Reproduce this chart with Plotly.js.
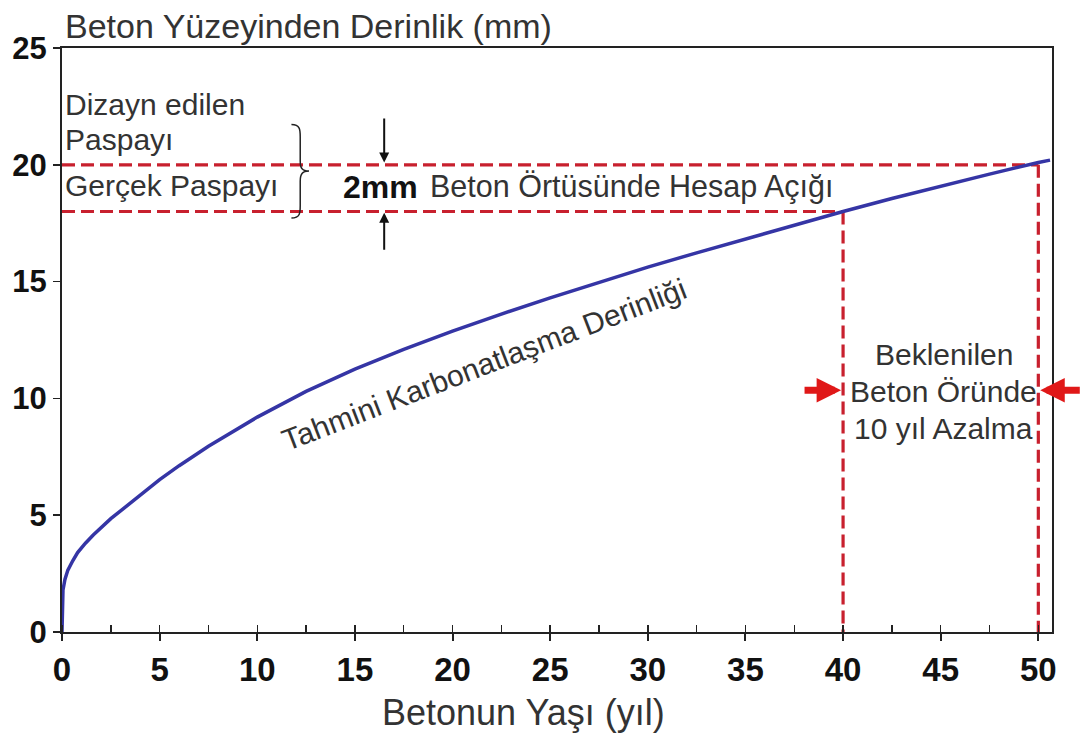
<!DOCTYPE html>
<html><head><meta charset="utf-8">
<script src="https://cdn.plot.ly/plotly-3.0.1.min.js"></script>
<style>body{margin:0;background:#fff}#c{width:1085px;height:734px}</style>
</head><body><div id="c"></div>
<script>
// Carbonation depth curve
const ageYears = [0, 0.01, 0.05, 0.15, 0.3, 0.55, 0.8, 1.2, 1.6, 2.5, 3.3, 4, 5, 6, 7.5, 10, 12.5, 15, 17.5, 20, 22.5, 25, 27.5, 30, 32.5, 35, 37.5, 40, 42.5, 45, 47.5, 50, 50.6];
const depthMm = [0, 1.2, 1.8, 2.25, 2.65, 3.05, 3.4, 3.8, 4.15, 4.85, 5.4, 5.87, 6.52, 7.12, 7.95, 9.2, 10.3, 11.25, 12.1, 12.88, 13.61, 14.3, 14.97, 15.62, 16.23, 16.83, 17.42, 18.0, 18.56, 19.09, 19.6, 20.1, 20.2];
// Reference lines
const designCoverX = [0, 50], designCoverY = [20, 20];
const actualCoverX = [0, 40], actualCoverY = [18, 18];
const life40X = [40, 40], life40Y = [18, 0];
const life50X = [50, 50], life50Y = [20, 0];
const xTicks = [0, 5, 10, 15, 20, 25, 30, 35, 40, 45, 50];
const yTicks = [0, 5, 10, 15, 20, 25];

const red = '#c8202e';
const dash = '13px,6px';
const traces = [
  {x: designCoverX, y: designCoverY, mode: 'lines', line: {color: red, width: 3.2, dash: dash}, hoverinfo: 'skip'},
  {x: actualCoverX, y: actualCoverY, mode: 'lines', line: {color: red, width: 3.2, dash: dash}, hoverinfo: 'skip'},
  {x: life40X, y: life40Y, mode: 'lines', line: {color: red, width: 3.2, dash: dash}, hoverinfo: 'skip'},
  {x: life50X, y: life50Y, mode: 'lines', line: {color: red, width: 3.2, dash: dash}, hoverinfo: 'skip'},
  {x: ageYears, y: depthMm, mode: 'lines', line: {color: '#3535a5', width: 3.5}, hoverinfo: 'skip'}
];

const txt = '#333333';
const F = 'Liberation Sans, Arial, sans-serif';
const annotations = [
  {text: 'Beton Yüzeyinden Derinlik (mm)', xref: 'paper', yref: 'paper', x: 0, y: 1, xanchor: 'left', yanchor: 'bottom', xshift: 1, yshift: 1, showarrow: false, font: {family: F, size: 34, color: txt}},
  {text: 'Betonun Yaşı (yıl)', xref: 'paper', yref: 'paper', x: 0.466, y: 0, xanchor: 'center', yanchor: 'middle', yshift: -80, showarrow: false, font: {family: F, size: 36, color: txt}},
  {text: 'Dizayn edilen', x: 0, y: 22.6, xanchor: 'left', yanchor: 'middle', xshift: 1, showarrow: false, font: {family: F, size: 30, color: txt}},
  {text: 'Paspayı', x: 0, y: 21.1, xanchor: 'left', yanchor: 'middle', xshift: 1, showarrow: false, font: {family: F, size: 30, color: txt}},
  {text: 'Gerçek Paspayı', x: 0, y: 19.1, xanchor: 'left', yanchor: 'middle', xshift: 1, showarrow: false, font: {family: F, size: 30, color: txt}},
  {text: '<b>2mm</b>', x: 14.3, y: 19.05, xanchor: 'left', yanchor: 'middle', showarrow: false, font: {family: F, size: 32, color: '#111'}},
  {text: 'Beton Örtüsünde Hesap Açığı', x: 18.75, y: 19.05, xanchor: 'left', yanchor: 'middle', showarrow: false, font: {family: F, size: 30.5, color: txt}},
  {text: 'Tahmini Karbonatlaşma Derinliği', x: 21.6, y: 11.45, textangle: -21, showarrow: false, font: {family: F, size: 30, color: txt}},
  {text: 'Beklenilen', x: 45.15, y: 11.9, showarrow: false, font: {family: F, size: 30, color: txt}},
  {text: 'Beton Öründe', x: 45.15, y: 10.3, showarrow: false, font: {family: F, size: 30, color: txt}},
  {text: '10 yıl Azalma', x: 45.15, y: 8.7, showarrow: false, font: {family: F, size: 30, color: txt}},
  // black gap arrows
  {x: 16.5, y: 20.1, ax: 16.5, ay: 22.05, axref: 'x', ayref: 'y', showarrow: true, arrowhead: 2, arrowsize: 1, arrowwidth: 2, arrowcolor: '#111', text: ''},
  {x: 16.5, y: 17.95, ax: 16.5, ay: 16.3, axref: 'x', ayref: 'y', showarrow: true, arrowhead: 2, arrowsize: 1, arrowwidth: 2, arrowcolor: '#111', text: ''},
  // red life arrows
  {x: 39.9, y: 10.35, ax: 37.95, ay: 10.35, axref: 'x', ayref: 'y', showarrow: true, arrowhead: 2, arrowsize: 0.7, arrowwidth: 7, arrowcolor: '#e01818', text: ''},
  {x: 50.1, y: 10.35, ax: 52.2, ay: 10.35, axref: 'x', ayref: 'y', showarrow: true, arrowhead: 2, arrowsize: 0.7, arrowwidth: 7, arrowcolor: '#e01818', text: ''}
];

const shapes = [
  // curly brace
  {type: 'path', xref: 'x', yref: 'y', line: {color: '#222', width: 1.5},
   path: 'M 11.75,21.72 C 12.2,21.72 12.2,21.5 12.2,21.2 L 12.2,20.15 C 12.2,19.85 12.3,19.73 12.65,19.73 C 12.3,19.73 12.2,19.6 12.2,19.3 L 12.2,18.25 C 12.2,17.95 12.2,17.72 11.75,17.72'}
];

const layout = {
  width: 1085, height: 734,
  margin: {l: 62, r: 33, t: 48, b: 102},
  paper_bgcolor: '#fff', plot_bgcolor: '#fff',
  showlegend: false,
  xaxis: {range: [0, 50.7], tickvals: xTicks, ticktext: xTicks.map(String), ticks: 'outside', ticklen: 7, tickwidth: 2, tickcolor: '#222',
    minor: {dtick: 2.5, tick0: 0, ticks: 'inside', ticklen: 7, tickwidth: 1.5, tickcolor: '#222'},
    showline: true, linecolor: '#222', linewidth: 2, mirror: true, showgrid: false, zeroline: false,
    tickfont: {family: F, size: 33, color: '#111', weight: 'bold'}},
  yaxis: {range: [0, 25], tickvals: yTicks, ticktext: yTicks.map(String), ticks: 'outside', ticklen: 7, tickwidth: 1.5, tickcolor: '#222',
    showline: true, linecolor: '#222', linewidth: 2, mirror: true, showgrid: false, zeroline: false,
    tickfont: {family: F, size: 31, color: '#111', weight: 'bold'}},
  annotations: annotations,
  shapes: shapes
};
Plotly.newPlot('c', traces, layout, {displayModeBar: false, staticPlot: true});
</script></body></html>
